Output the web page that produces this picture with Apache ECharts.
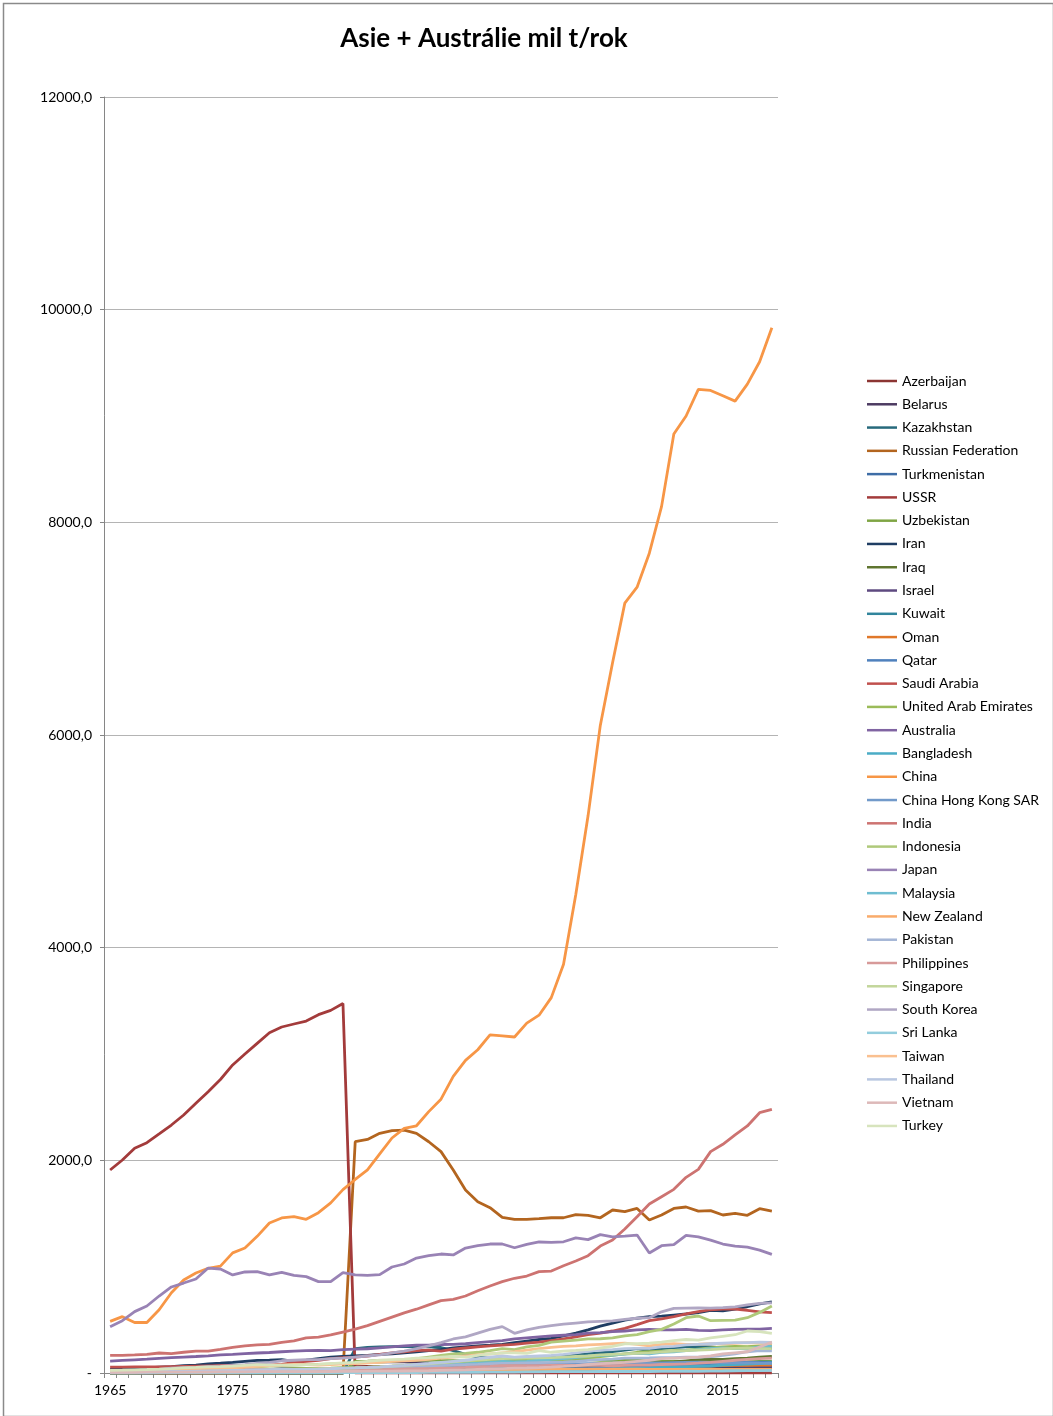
<!DOCTYPE html>
<html>
<head>
<meta charset="utf-8">
<script src="https://cdn.jsdelivr.net/npm/echarts@6/dist/echarts.min.js"></script>
<style>
html,body{margin:0;padding:0;background:#fff;}
#chart{width:1053px;height:1416px;}
</style>
</head>
<body>
<div id="chart"></div>
<script>
const years = [];
for (let y = 1965; y <= 2019; y++) years.push(String(y));

const yTicks = [0, 2000, 4000, 6000, 8000, 10000, 12000];

const Z20 = [0,0,0,0,0, 0,0,0,0,0, 0,0,0,0,0, 0,0,0,0,0];

const azerbaijan = Z20.concat([60,62,62,63,62, 60,58,50,45,40, 35,32,30,30,30, 30,29,29,30,31, 33,32,28,30,26, 26,28,30,31,32, 34,34,33,34,36]);
const belarus = Z20.concat([100,102,104,105,104, 100,95,85,75,65, 60,60,58,56,55, 54,54,55,56,58, 60,62,60,62,58, 62,60,62,60,60, 56,56,58,58,58]);
const kazakhstan = Z20.concat([230,240,245,248,250, 248,245,240,210,175, 150,140,130,125,128, 140,145,155,170,180, 190,200,215,230,210, 230,240,245,250,245, 235,230,240,245,230]);
const russia = Z20.concat([2175,2197,2254,2279,2285, 2254,2175,2082,1909,1721, 1611,1555,1464,1445,1445, 1451,1460,1460,1489,1483, 1460,1533,1517,1548,1439, 1486,1548,1561,1523,1527, 1486,1501,1483,1545,1523]);
const turkmenistan = Z20.concat([35,36,37,38,40, 42,40,38,36,34, 34,35,33,32,35, 40,42,44,46,48, 50,52,56,60,56, 60,62,66,68,70, 72,72,74,76,76]);
const ussr = [1909,2003,2113,2166,2248, 2332,2426,2536,2646,2760, 2897,3000,3100,3200,3254, 3282,3310,3370,3410,3475,
  0,0,0,0,0, 0,0,0,0,0, 0,0,0,0,0, 0,0,0,0,0, 0,0,0,0,0, 0,0,0,0,0, 0,0,0,0,0];
const uzbekistan = Z20.concat([110,112,115,118,120, 122,122,118,115,112, 110,112,115,118,120, 125,128,130,128,125, 120,118,122,120,112, 110,112,110,108,110, 108,105,106,110,112]);
const iran = [35,38,42,48,55, 60,68,75,85,92, 100,110,118,120,125, 110,120,135,150,155, 160,165,175,180,190, 200,210,220,235,245, 255,262,270,285,300, 315,326,350,375,405, 440,470,498,515,530, 535,545,555,567,590, 585,600,624,650,670];
const iraq = [10,11,12,13,14, 15,16,17,18,20, 22,25,28,32,38, 40,38,38,40,42, 45,48,50,52,55, 52,40,48,55,60, 62,65,68,70,72, 75,78,80,78,82, 85,82,80,88,95, 100,105,115,125,130, 128,135,140,148,155];
const israel = [8,9,9,10,11, 12,13,14,15,16, 16,17,18,18,19, 19,20,21,22,23, 24,26,28,30,32, 34,36,40,44,46, 50,53,55,58,60, 62,64,66,68,68, 68,68,70,72,70, 72,74,76,72,68, 68,67,66,65,64];
const kuwait = [25,26,27,28,30, 32,33,34,30,28, 28,30,32,35,38, 35,30,28,30,32, 35,38,38,40,42, 38,20,30,40,45, 48,50,52,54,56, 58,60,62,65,70, 75,75,78,80,85, 88,90,95,96,95, 98,100,100,102,103];
const oman = [0,0,0,1,1, 1,1,1,2,2, 2,3,3,3,4, 4,5,5,6,7, 8,9,10,10,11, 11,12,13,14,15, 16,17,18,20,22, 24,26,28,30,32, 35,38,42,46,50, 52,56,60,63,66, 70,72,72,74,75];
const qatar = [1,1,2,2,3, 3,4,4,5,5, 6,7,8,9,10, 10,11,12,13,14, 15,15,16,17,18, 18,19,22,24,25, 26,27,28,29,30, 30,32,35,38,40, 45,50,55,60,65, 70,78,82,85,88, 95,98,100,100,100];
const saudiArabia = [55,56,57,58,58, 60,62,64,66,68, 68,70,72,75,80, 100,110,120,135,145, 150,160,175,190,200, 210,216,205,225,235, 245,255,263,270,280, 290,305,320,340,360, 375,395,420,455,492, 510,530,555,577,595, 600,600,590,575,567];
const uae = [1,1,2,3,4, 6,8,10,12,15, 18,22,26,30,35, 38,40,42,45,50, 52,55,60,65,72, 78,82,85,90,95, 100,105,110,112,115, 120,125,130,138,145, 155,165,180,195,200, 205,210,215,225,235, 245,250,248,255,260];
const australia = [112,118,124,130,138, 145,150,155,162,170, 175,182,188,193,200, 205,210,212,210,220, 225,228,237,245,255, 262,263,268,270,275, 285,295,305,320,330, 340,350,355,360,375, 380,390,395,405,410, 405,405,410,400,398, 405,410,412,413,420];
const bangladesh = [2,2,2,3,3, 3,3,3,4,4, 4,5,5,6,6, 7,7,8,8,9, 10,11,12,13,14, 15,16,17,18,19, 21,22,23,24,25, 27,29,31,33,35, 37,39,42,45,48, 53,56,60,63,66, 74,80,84,88,94];
const china = [485,530,475,475,595, 755,875,940,985,1005, 1130,1175,1285,1410,1458, 1470,1445,1508,1600,1725, 1820,1910,2060,2210,2300, 2325,2458,2575,2790,2940, 3040,3180,3170,3160,3290, 3365,3530,3845,4500,5240, 6090,6680,7240,7390,7710, 8150,8830,9000,9250,9240, 9190,9140,9300,9510,9830];
const hongKong = [5,6,7,8,9, 10,11,12,13,14, 15,16,17,18,20, 22,24,26,28,30, 32,34,36,38,40, 42,48,52,56,60, 62,64,66,70,72, 76,80,82,85,88, 90,92,94,96,95, 95,98,100,102,100, 98,96,95,92,90];
const india = [165,166,170,175,188, 182,195,205,206,222, 240,255,265,270,288, 302,330,338,358,385, 412,445,485,525,565, 600,640,680,693,724, 774,818,859,891,912, 953,959,1009,1053,1103, 1194,1250,1354,1470,1589, 1658,1727,1840,1915,2082, 2151,2239,2323,2448,2480];
const indonesia = [22,22,23,25,27, 30,32,35,40,43, 45,52,58,65,70, 75,80,82,85,88, 92,98,103,110,120, 135,150,165,180,185, 195,210,230,220,245, 260,290,300,310,320, 322,330,350,360,389, 410,460,520,536,492, 495,498,520,570,630];
const japan = [436,492,577,630,724, 809,846,884,987,978, 922,950,953,922,947, 919,906,859,859,944, 922,919,925,997,1025, 1081,1103,1119,1110,1175, 1197,1213,1213,1178,1209, 1232,1228,1234,1270,1254, 1301,1281,1288,1297,1128, 1197,1207,1295,1281,1250, 1213,1194,1184,1156,1115];
const malaysia = [7,8,9,10,11, 12,13,14,16,17, 18,20,22,24,26, 28,30,32,34,36, 38,40,42,46,50, 55,62,70,78,85, 92,100,110,105,110, 120,128,135,145,160, 165,168,178,185,180, 195,200,210,220,230, 235,230,230,245,252];
const newZealand = [12,13,13,14,14, 15,15,16,17,17, 18,18,18,19,19, 19,20,20,21,22, 23,24,25,25,26, 27,28,29,29,30, 30,31,32,32,33, 34,35,35,36,37, 37,37,36,36,34, 34,34,35,35,35, 35,34,35,35,35];
const pakistan = [14,15,16,17,18, 19,20,20,22,23, 24,25,27,29,30, 32,34,36,38,42, 45,48,52,56,60, 62,65,70,75,78, 82,88,90,92,95, 98,100,102,108,118, 125,130,140,140,142, 145,145,148,150,155, 165,180,200,210,208];
const philippines = [10,12,14,16,18, 22,24,26,28,28, 30,32,33,35,36, 35,34,34,32,30, 28,30,32,35,38, 40,42,45,48,52, 58,62,68,70,68, 70,72,72,72,74, 72,68,72,74,75, 80,82,85,92,100, 110,120,128,135,140];
const singapore = [4,5,6,8,10, 12,14,16,20,22, 24,25,27,28,30, 32,34,38,42,45, 48,52,58,65,70, 78,85,95,105,115, 122,128,135,138,140, 142,145,150,155,160, 170,175,180,185,190, 198,205,210,215,220, 228,232,235,232,230];
const southKorea = [15,18,22,28,35, 45,50,52,60,62, 70,78,90,100,115, 120,125,125,135,140, 150,160,170,190,205, 230,255,285,320,340, 375,410,436,373,405, 430,445,460,470,480, 485,490,505,515,520, 575,608,610,612,610, 615,622,640,655,660];
const sriLanka = [2,2,2,2,3, 3,3,3,3,3, 3,3,3,4,4, 4,4,4,4,4, 4,4,4,4,4, 4,5,5,6,6, 7,8,8,9,10, 11,12,12,13,13, 14,14,14,14,14, 15,16,18,16,18, 19,21,22,22,24];
const taiwan = [15,17,19,22,25, 30,35,40,45,45, 48,55,62,70,75, 80,78,75,80,85, 88,95,100,110,115, 120,128,140,150,160, 170,180,190,200,215, 230,240,250,255,265, 270,275,280,270,255, 270,275,270,272,275, 275,280,285,282,280];
const thailand = [6,7,8,10,12, 14,16,18,20,22, 24,26,29,32,35, 35,35,37,40,45, 48,52,58,65,72, 82,90,100,110,120, 135,148,160,150,155, 160,165,175,190,205, 215,220,230,232,232, 245,250,265,270,275, 280,285,285,290,288];
const vietnam = [5,6,7,8,8, 8,8,9,9,10, 10,11,12,12,13, 12,12,13,14,15, 16,17,18,18,19, 20,21,24,27,30, 34,38,42,45,47, 50,55,62,70,80, 88,92,100,110,120, 135,140,145,150,160, 180,190,200,245,290];
const turkey = [25,27,30,33,37, 42,48,52,58,60, 65,72,78,75,75, 75,78,82,88,95, 100,110,120,125,130, 140,142,150,155,150, 165,180,190,190,185, 210,195,205,212,220, 235,250,275,275,280, 290,305,315,310,330, 345,360,395,390,373];

const seriesNames = ['Azerbaijan','Belarus','Kazakhstan','Russian Federation','Turkmenistan','USSR','Uzbekistan','Iran','Iraq','Israel','Kuwait','Oman','Qatar','Saudi Arabia','United Arab Emirates','Australia','Bangladesh','China','China Hong Kong SAR','India','Indonesia','Japan','Malaysia','New Zealand','Pakistan','Philippines','Singapore','South Korea','Sri Lanka','Taiwan','Thailand','Vietnam','Turkey'];
const seriesData = [azerbaijan,belarus,kazakhstan,russia,turkmenistan,ussr,uzbekistan,iran,iraq,israel,kuwait,oman,qatar,saudiArabia,uae,australia,bangladesh,china,hongKong,india,indonesia,japan,malaysia,newZealand,pakistan,philippines,singapore,southKorea,sriLanka,taiwan,thailand,vietnam,turkey];
const seriesColors = ['#8C3533','#4D3B62','#276A7C','#B3651F','#3E6DA6','#A33B3B','#7FA544','#1F3D63','#5F7530','#5E4A80','#31859C','#E0782A','#4F81BD','#C0504D','#9BBB59','#8064A2','#4BACC6','#F79646','#729ACA','#CD7371','#AFC97A','#9983B5','#6FBDD1','#F9AB6B','#A5B6D6','#D79A99','#C3D69B','#B0A7C4','#93CDDD','#FAC090','#B9C7E1','#DDB9B9','#D7E4BD'];

const chart = echarts.init(document.getElementById('chart'), null, {renderer: 'canvas'});
const FONT = 'Lato, "Open Sans", sans-serif';

const option = {
  animation: false,
  backgroundColor: '#ffffff',
  title: {
    text: 'Asie + Austrálie mil t/rok',
    left: 479, top: 21, textAlign: 'center',
    textStyle: {fontFamily: FONT, fontWeight: 'bold', fontSize: 26, color: '#000'}
  },
  graphic: [{
    type: 'rect', left: 1, top: 1, silent: true,
    shape: {width: 1050, height: 1413},
    style: {fill: 'none', stroke: '#8a8a8a', lineWidth: 1.5}
  }],
  grid: {left: 104, top: 97, width: 674, height: 1276, containLabel: false},
  legend: {
    orient: 'vertical', left: 867, top: 373, padding: 0,
    itemWidth: 30, itemHeight: 14, itemGap: 7.28,
    icon: 'path://M0,6 L30,6 L30,8.5 L0,8.5 Z',
    textStyle: {fontFamily: FONT, fontSize: 14, color: '#000', lineHeight: 16},
    data: seriesNames
  },
  xAxis: {
    type: 'category', data: years, boundaryGap: true,
    axisLine: {lineStyle: {color: '#868686', width: 1}},
    axisTick: {show: true, interval: 0, length: 5, lineStyle: {color: '#868686'}},
    axisLabel: {interval: 4, fontFamily: FONT, fontSize: 14, color: '#000', margin: 10},
    splitLine: {show: false}
  },
  yAxis: {
    type: 'value', min: yTicks[0], max: yTicks[yTicks.length-1], interval: 2000,
    axisLine: {show: true, lineStyle: {color: '#868686', width: 1}},
    axisTick: {show: true, length: 4, lineStyle: {color: '#868686'}},
    axisLabel: {
      fontFamily: FONT, fontSize: 14, color: '#000', margin: 12,
      formatter: v => v === 0 ? '-' : v.toFixed(1).replace('.', ',')
    },
    splitLine: {show: true, lineStyle: {color: '#B4B4B4', width: 1}}
  },
  series: seriesNames.map((n, i) => ({
    name: n, type: 'line', data: seriesData[i],
    symbol: 'none', smooth: false,
    lineStyle: {width: 2.8, color: seriesColors[i]},
    itemStyle: {color: seriesColors[i]},
    emphasis: {disabled: true}
  }))
};
chart.setOption(option);
</script>
</body>
</html>
